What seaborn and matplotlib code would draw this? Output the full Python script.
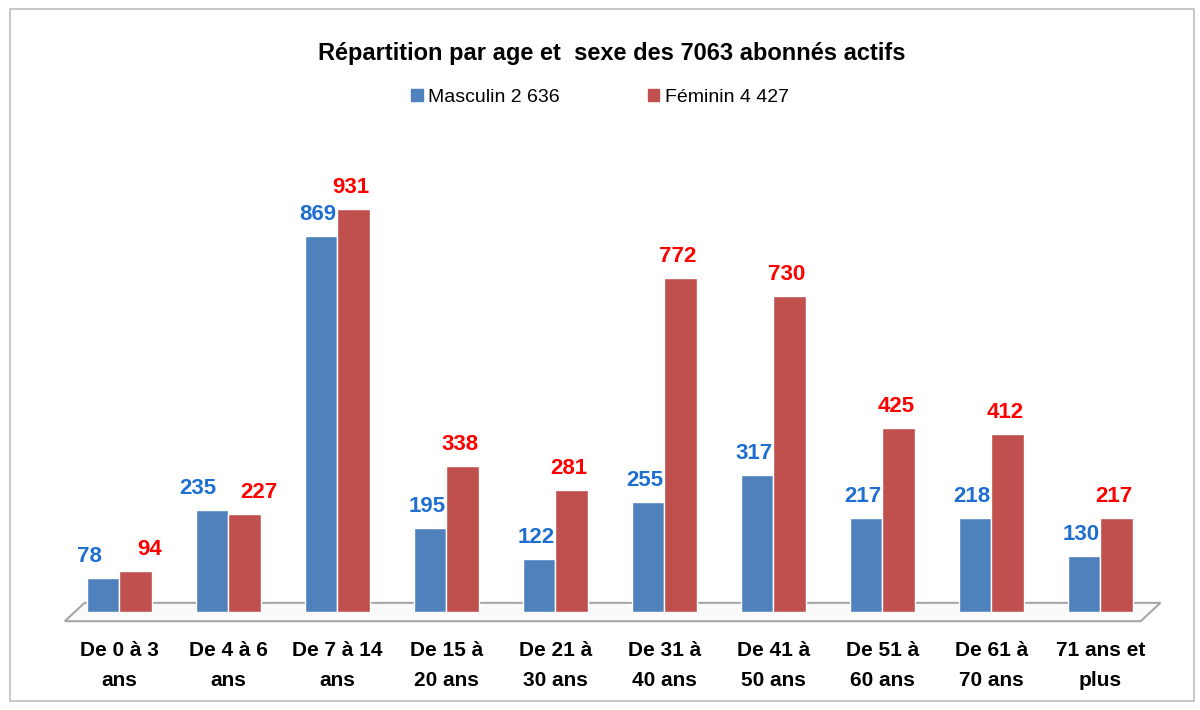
import matplotlib
matplotlib.use("Agg")
import matplotlib.pyplot as plt
import seaborn as sns
import pandas as pd
from matplotlib.patches import Rectangle, Polygon

# data
age_groups = ["De 0 à 3\nans", "De 4 à 6\nans", "De 7 à 14\nans", "De 15 à\n20 ans",
              "De 21 à\n30 ans", "De 31 à\n40 ans", "De 41 à\n50 ans", "De 51 à\n60 ans",
              "De 61 à\n70 ans", "71 ans et\nplus"]
masculin = [78, 235, 869, 195, 122, 255, 317, 217, 218, 130]
feminin = [94, 227, 931, 338, 281, 772, 730, 425, 412, 217]
series_names = ["Masculin 2 636", "Féminin 4 427"]

df = pd.DataFrame({
    "age": age_groups * 2,
    "value": masculin + feminin,
    "sexe": [series_names[0]] * len(age_groups) + [series_names[1]] * len(age_groups),
})

sns.set_style("white")
plt.rcParams["font.family"] = ["Liberation Sans Narrow", "Liberation Sans", "DejaVu Sans"]
plt.rcParams["text.color"] = "black"
plt.rcParams["xtick.color"] = "black"

bar_colors = ["#4F81BD", "#C0504D"]
label_colors = ["#1F6FD1", "#FF0000"]

fig = plt.figure(figsize=(12, 7.1), dpi=100)
fig.patches.append(Rectangle((0.008, 0.012), 0.987, 0.975, transform=fig.transFigure,
                             fill=False, edgecolor="#BFBFBF", linewidth=1.2))
ax = fig.add_axes([0.054, 0.138, 0.913, 0.68])

# floor of the 3D-looking chart
floor = Polygon([(0, -0.019), (0.982, -0.019), (1.0, 0.019), (0.018, 0.019)],
                closed=True, transform=ax.transAxes, facecolor="#FAFAFA",
                edgecolor="#A6A6A6", linewidth=1.5, clip_on=False, zorder=0)
ax.add_patch(floor)

sns.barplot(data=df, x="age", y="value", hue="sexe", palette=bar_colors,
            width=0.6, ax=ax, legend=False, saturation=1, zorder=2)

ax.set_xlim(-0.5, 9.55)
ax.set_ylim(0, 1116)

# value labels above each bar; push apart the pair when tops are close
for i, (m, f) in enumerate(zip(masculin, feminin)):
    close = abs(m - f) < 60
    for container, col, val, side in zip(ax.containers, label_colors, (m, f), (-1, 1)):
        bar = container[i]
        dx = side * 10 if close else -2
        ax.annotate(f"{val}", (bar.get_x() + bar.get_width() / 2, val),
                    xytext=(dx, 8), textcoords="offset points", ha="center",
                    va="bottom", fontsize=16, fontweight="bold", color=col, zorder=3)

for s in ["top", "right", "left", "bottom"]:
    ax.spines[s].set_visible(False)
ax.set_yticks([])
ax.set_xlabel("")
ax.set_ylabel("")
ax.tick_params(axis="x", length=0, pad=21)
plt.setp(ax.get_xticklabels(), fontsize=15, fontweight="bold", linespacing=1.75)

fig.text(0.51, 0.925, "Répartition par age et  sexe des 7063 abonnés actifs",
         ha="center", va="center", fontsize=17, fontweight="bold")

handles = [Rectangle((0, 0), 1, 1, color=c) for c in bar_colors]
fig.legend(handles, series_names, loc="center", bbox_to_anchor=(0.5, 0.863), ncol=2,
           frameon=False, fontsize=14, handlelength=0.6, handleheight=0.6,
           columnspacing=4.5, handletextpad=0.3)

fig.savefig("out.png", dpi=100)
